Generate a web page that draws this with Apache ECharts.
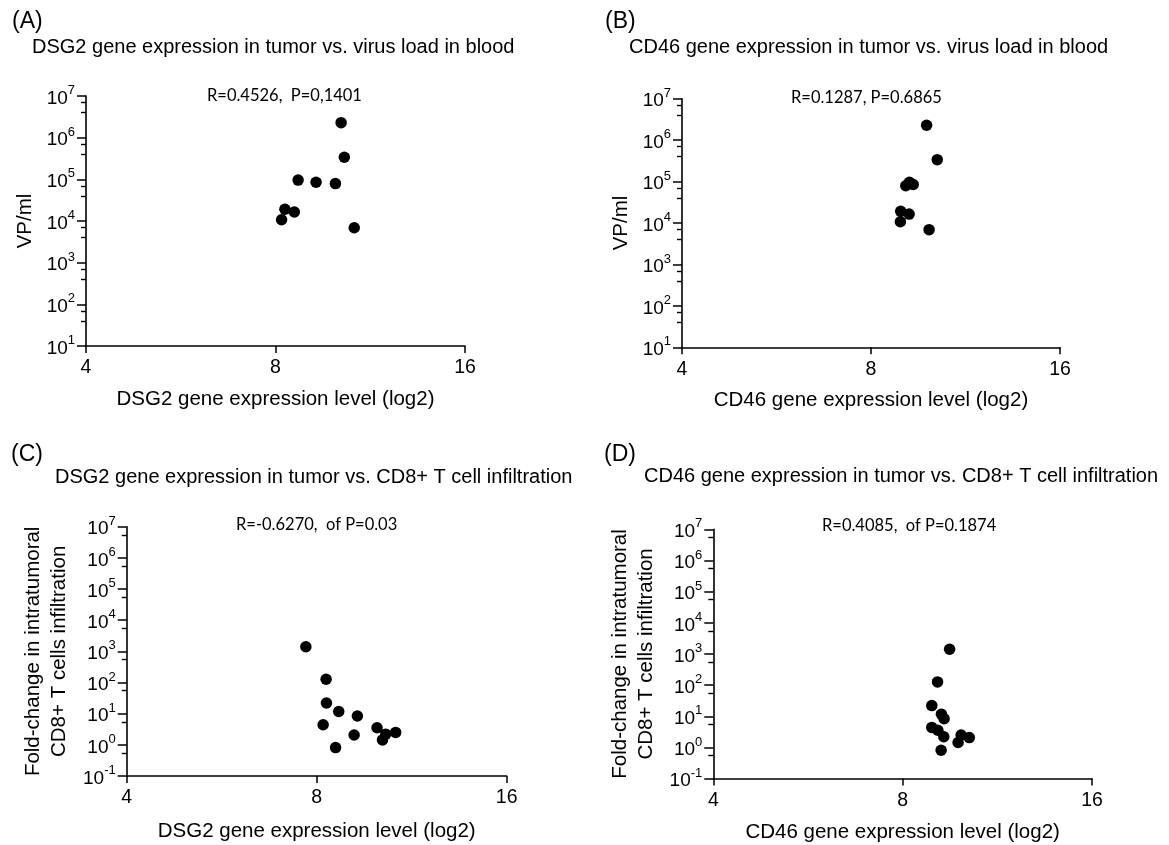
<!DOCTYPE html>
<html><head><meta charset="utf-8">
<script src="https://cdn.jsdelivr.net/npm/echarts@6/dist/echarts.min.js"></script>
<style>html,body{margin:0;padding:0;background:#fff}#c{width:1169px;height:845px}</style>
</head><body><div id="c"></div>
<script>
// ---- data ----
const xTickValues = [4, 8, 16];
const vlTicks = [1e1, 1e2, 1e3, 1e4, 1e5, 1e6, 1e7];
const cd8Ticks = [1e-1, 1e0, 1e1, 1e2, 1e3, 1e4, 1e5, 1e6, 1e7];

// virus load in blood (VP/ml), same patients in A and B
const virusLoad = [2.29e6, 3.38e5, 9.6e4, 8.5e4, 7.9e4, 1.91e4, 1.64e4, 1.07e4, 6.9e3];
const dsg2ForVL = [10.17, 10.29, 8.69, 9.28, 9.96, 8.28, 8.57, 8.18, 10.67];
const cd46ForVL = [9.81, 10.20, 9.21, 9.34, 9.09, 8.92, 9.20, 8.91, 9.90];

// fold-change in intratumoral CD8+ T cell infiltration, same patients in C and D
const cd8Fold = [1410, 127, 22, 11.7, 8.4, 4.4, 3.55, 2.2, 2.5, 2.07, 1.44, 0.815];
const dsg2ForCD8 = [7.69, 8.28, 8.29, 8.67, 9.28, 8.19, 9.97, 10.29, 10.67, 9.17, 10.17, 8.57];
const cd46ForCD8 = [9.50, 9.09, 8.90, 9.22, 9.31, 8.90, 9.10, 9.30, 9.91, 10.21, 9.80, 9.21];

const panelLetters = ['(A)', '(B)', '(C)', '(D)'];
const panelTitles = [
  'DSG2 gene expression in tumor vs. virus load in blood',
  'CD46 gene expression in tumor vs. virus load in blood',
  'DSG2 gene expression in tumor vs. CD8+ T cell infiltration',
  'CD46 gene expression in tumor vs. CD8+ T cell infiltration'
];
const statTexts = ['R=0.4526,  P=0,1401', 'R=0.1287, P=0.6865', 'R=-0.6270,  of P=0.03', 'R=0.4085,  of P=0.1874'];
const xNames = ['DSG2 gene expression level (log2)', 'CD46 gene expression level (log2)', 'DSG2 gene expression level (log2)', 'CD46 gene expression level (log2)'];
const yNames = ['VP/ml', 'VP/ml', 'Fold-change in intratumoral\nCD8+ T cells infiltration', 'Fold-change in intratumoral\nCD8+ T cells infiltration'];

// ---- layout ----
const FONT = '"Liberation Sans", Arial, sans-serif';
const STATFONT = 'Lato, "Open Sans", sans-serif';
const layout = [
  {grid: {left: 86, top: 96, width: 379, height: 250}, minor: 3, yGap: 48, xGap: 43,
   letter: [12, 10], title: [32, 37], stat: [207, 87]},
  {grid: {left: 682, top: 98.7, width: 378, height: 248.6}, minor: 3, yGap: 48, xGap: 43,
   letter: [605, 10], title: [629, 37], stat: [791, 89]},
  {grid: {left: 126.7, top: 526.7, width: 380, height: 249.3}, minor: 2, yGap: 54, xGap: 45,
   letter: [11, 443], title: [55, 467.5], stat: [236, 516]},
  {grid: {left: 713.3, top: 529.3, width: 378.7, height: 249.3}, minor: 2, yGap: 54, xGap: 43,
   letter: [604, 443], title: [644, 466], stat: [822, 517]}
];
const xData = [dsg2ForVL, cd46ForVL, dsg2ForCD8, cd46ForCD8];
const yData = [virusLoad, virusLoad, cd8Fold, cd8Fold];
const yTickSets = [vlTicks, vlTicks, cd8Ticks, cd8Ticks];

function supLabel(v) {
  const e = Math.round(Math.log10(v));
  return '{b|10}{s|' + e + '}';
}

const titles = [];
layout.forEach((L, i) => {
  titles.push({text: panelLetters[i], left: L.letter[0], top: L.letter[1], padding: 0,
    textStyle: {fontFamily: FONT, fontSize: 23, fontWeight: 'normal', color: '#000'}});
  titles.push({text: panelTitles[i], left: L.title[0], top: L.title[1], padding: 0,
    textStyle: {fontFamily: FONT, fontSize: 20, fontWeight: 'normal', color: '#000'}});
  titles.push({text: statTexts[i], left: L.stat[0], top: L.stat[1], padding: 0,
    textStyle: {fontFamily: STATFONT, fontSize: 16.5, fontWeight: 'normal', color: '#000'}});
});

const axisLine = {show: true, onZero: false, lineStyle: {color: '#000', width: 1.6}};
const option = {
  backgroundColor: '#fff',
  animation: false,
  title: titles,
  grid: layout.map(L => Object.assign({containLabel: false}, L.grid)),
  xAxis: layout.map((L, i) => ({
    gridIndex: i, type: 'log', logBase: 2,
    min: xTickValues[0], max: xTickValues[xTickValues.length - 1], interval: 1,
    name: xNames[i], nameLocation: 'middle', nameGap: L.xGap,
    nameTextStyle: {fontFamily: FONT, fontSize: 20.5, color: '#000'},
    axisLine: axisLine,
    axisTick: {show: true, length: 7, lineStyle: {color: '#000', width: 1.5}},
    axisLabel: {margin: 12, fontFamily: FONT, fontSize: 19.5, color: '#000', formatter: v => String(Math.round(v)),
      showMinLabel: true, showMaxLabel: true},
    splitLine: {show: false}
  })),
  yAxis: layout.map((L, i) => ({
    gridIndex: i, type: 'log', logBase: 10,
    min: yTickSets[i][0], max: yTickSets[i][yTickSets[i].length - 1], interval: 1,
    name: yNames[i], nameLocation: 'middle', nameGap: L.yGap,
    nameTextStyle: {fontFamily: FONT, fontSize: 20.5, color: '#000', lineHeight: 26},
    axisLine: axisLine,
    axisTick: {show: true, length: 9, lineStyle: {color: '#000', width: 1.5}},
    minorTick: {show: true, splitNumber: L.minor, length: 5, lineStyle: {color: '#000', width: 1.4}},
    axisLabel: {margin: 11, formatter: supLabel, showMinLabel: true, showMaxLabel: true,
      rich: {
        b: {fontFamily: FONT, fontSize: 19, color: '#000', lineHeight: 24, verticalAlign: 'bottom'},
        s: {fontFamily: FONT, fontSize: 13, color: '#000', lineHeight: 13, verticalAlign: 'top'}
      }},
    splitLine: {show: false},
    minorSplitLine: {show: false}
  })),
  series: layout.map((L, i) => ({
    type: 'scatter', xAxisIndex: i, yAxisIndex: i,
    symbol: 'circle', symbolSize: 11.5,
    itemStyle: {color: '#000', opacity: 1},
    data: xData[i].map((v, j) => [v, yData[i][j]])
  }))
};
const chart = echarts.init(document.getElementById('c'), null, {renderer: 'canvas'});
chart.setOption(option);
</script>
</body></html>
